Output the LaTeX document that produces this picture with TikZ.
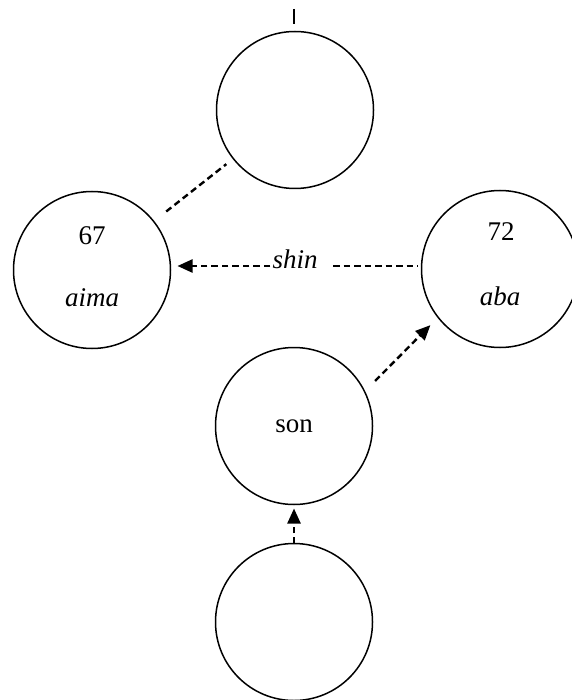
\documentclass[tikz,border=0pt]{standalone}
\usepackage{fontspec}
\setmainfont{Liberation Serif}
\usetikzlibrary{arrows.meta}
\begin{document}
\begin{tikzpicture}[x=1pt,y=-1pt,
  ring/.style={draw, circle, line width=1.5pt, minimum size=157pt, inner sep=0pt, outer sep=0pt},
  txt/.style={font=\fontsize{27}{31}\selectfont, inner sep=0pt},
  dline/.style={line width=2.4pt, dash pattern=on 6.5pt off 4pt},
  darrow/.style={dline, -{Triangle[length=15pt,width=13pt]}}]
\useasboundingbox (0,0) rectangle (571,700);
% circles
\node[ring] (top) at (295,110) {};
\node[ring] (aima) at (92,270) {};
\node[ring] (aba) at (500,269) {};
\node[ring] (son) at (294,426) {};
\node[ring] (bot) at (294,622) {};
% texts
\node[txt] (aimanum) at (92,236) {67};
\node[txt] (aimaname) at (92,298) {\textit{aima}};
\node[txt] (abanum) at (501,232) {72};
\node[txt] (abaname) at (500,296) {\textit{aba}};
\node[txt] (sontxt) at (294,426) {son};
\node[txt, anchor=base, inner sep=2pt] (shin) at (295,269) {\textit{shin}};
% tick above top circle
\coordinate (tickA) at (294,9);
\coordinate (tickB) at (294,24);
\draw[line width=1.2pt] (tickA) -- (tickB);
% aima -- top dashed
\draw[dline, shorten <=16pt, shorten >=9pt] (aima) -- (top);
% shin arrow
\coordinate (shinR) at (333,266);
\draw[dline, shorten >=4pt] (shinR) -- (shinR -| aba.west);
\draw[darrow, shorten >=7pt] (shin.west |- shinR) -- (shinR -| aima.east);
% son -> aba
\draw[darrow, shorten <=15pt, shorten >=11pt] (son.26.7) -- (aba.218.9);
% bottom -> son
\draw[darrow, shorten >=4pt] (bot.north) -- (son.south);
\end{tikzpicture}
\end{document}
